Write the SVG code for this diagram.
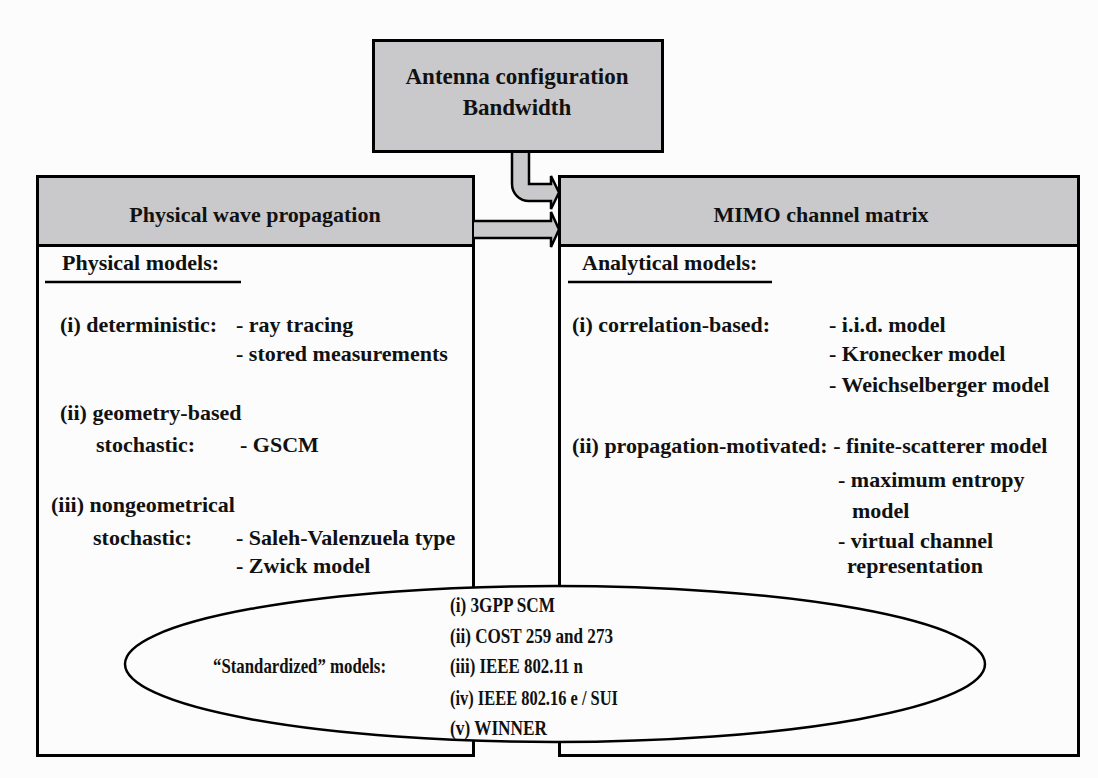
<svg xmlns="http://www.w3.org/2000/svg" width="1098" height="778" viewBox="0 0 1098 778">
<style>
.t{font-family:"Liberation Serif","Times New Roman",serif;font-weight:bold;font-size:22px;fill:#111}
.h{font-size:22px;text-anchor:middle}
.e{font-size:21.5px}
.box{fill:#fcfcfc;stroke:#000;stroke-width:3}
.hd{fill:#c9c9cb;stroke:#000;stroke-width:3}
.arr{fill:#c9c9cb;stroke:#000;stroke-width:2.5;stroke-linejoin:miter}
.ul{stroke:#000;stroke-width:2.5}
</style>
<rect width="1098" height="778" fill="#fcfcfc"/>
<g id="left-box">
<rect class="box" x="37.5" y="176.5" width="436" height="579"/>
<rect class="hd" x="37.5" y="176.5" width="436" height="69"/>
<text class="t h" x="255" y="222">Physical wave propagation</text>
<text class="t" x="62" y="270">Physical models:</text>
<line class="ul" x1="45" y1="282" x2="241" y2="282"/>
<text class="t" x="60" y="332">(i) deterministic:</text>
<text class="t" x="236" y="332">- ray tracing</text>
<text class="t" x="236" y="361">- stored measurements</text>
<text class="t" x="60" y="420">(ii) geometry-based</text>
<text class="t" x="96" y="452">stochastic:</text>
<text class="t" x="240" y="452">- GSCM</text>
<text class="t" x="51" y="512">(iii) nongeometrical</text>
<text class="t" x="93" y="545">stochastic:</text>
<text class="t" x="236" y="545">- Saleh-Valenzuela type</text>
<text class="t" x="236" y="573">- Zwick model</text>
</g>
<g id="right-box">
<rect class="box" x="559.5" y="176.5" width="519" height="579"/>
<rect class="hd" x="559.5" y="176.5" width="519" height="69"/>
<text class="t h" x="821" y="222">MIMO channel matrix</text>
<text class="t" x="582" y="270">Analytical models:</text>
<line class="ul" x1="568" y1="282" x2="772" y2="282"/>
<text class="t" x="572" y="332">(i) correlation-based:</text>
<text class="t" x="829" y="332">- i.i.d. model</text>
<text class="t" x="829" y="361">- Kronecker model</text>
<text class="t" x="829" y="392">- Weichselberger model</text>
<text class="t" x="572" y="453">(ii) propagation-motivated: - finite-scatterer model</text>
<text class="t" x="838" y="487">- maximum entropy</text>
<text class="t" x="852" y="518">model</text>
<text class="t" x="838" y="548">- virtual channel</text>
<text class="t" x="847" y="573">representation</text>
</g>
<g id="top-box">
<rect class="hd" x="373.5" y="40.5" width="289" height="111"/>
<text class="t h" x="517" y="84" style="font-size:23px">Antenna configuration</text>
<text class="t h" x="517" y="115" style="font-size:23px">Bandwidth</text>
</g>
<g id="connectors">
<path class="arr" d="M512,153 V184 A17,17 0 0 0 529,201 H551 V209 L559,192.5 L551,176 V184 H529 V153"/>
<path class="arr" d="M474,221 H551 V212 L559,229.5 L551,247 V238 H474"/>
</g>
<g id="standardized">
<ellipse cx="555" cy="664" rx="430" ry="78" fill="#fcfcfc" stroke="#000" stroke-width="2.5"/>
<text class="t e" x="213" y="673" textLength="173" lengthAdjust="spacingAndGlyphs">“Standardized” models:</text>
<text class="t e" x="450" y="612" textLength="105" lengthAdjust="spacingAndGlyphs">(i) 3GPP SCM</text>
<text class="t e" x="450" y="643" textLength="163" lengthAdjust="spacingAndGlyphs">(ii) COST 259 and 273</text>
<text class="t e" x="450" y="673" textLength="133" lengthAdjust="spacingAndGlyphs">(iii) IEEE 802.11 n</text>
<text class="t e" x="450" y="705" textLength="168" lengthAdjust="spacingAndGlyphs">(iv) IEEE 802.16 e / SUI</text>
<text class="t e" x="450" y="735" textLength="97" lengthAdjust="spacingAndGlyphs">(v) WINNER</text>
</g>
</svg>
